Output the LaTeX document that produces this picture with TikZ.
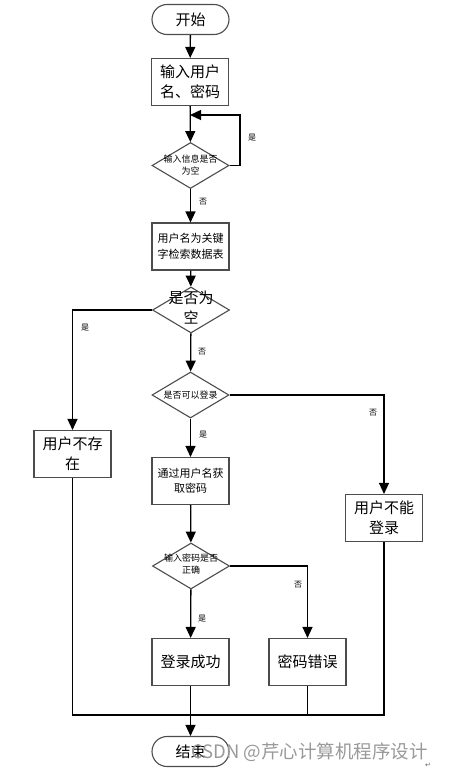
\documentclass[tikz,border=0pt]{standalone}
\usepackage{fontspec}
\newfontfamily\cjk{Noto Sans CJK SC}
\newfontfamily\dejavu{DejaVu Sans}
\usetikzlibrary{shapes.geometric,arrows.meta}
\tikzset{
  box/.style={draw=black!70, line width=1.1pt, fill=white, minimum width=77pt, minimum height=47pt, align=center, inner sep=1pt, font=\cjk\fontsize{15}{20}\selectfont},
  smallbox/.style={box, font=\cjk\fontsize{11}{15.5}\selectfont},
  term/.style={draw=black!70, line width=1.1pt, rounded corners=15pt, minimum width=77pt, minimum height=30pt, font=\cjk\fontsize{15}{18}\selectfont},
  dec/.style={diamond, draw=black!70, line width=1.1pt, inner sep=0pt, minimum width=77pt, minimum height=46pt},
  dectext/.style={align=center, inner sep=0pt, font=\cjk\fontsize{9}{12.5}\selectfont},
  bigdectext/.style={align=center, inner sep=0pt, font=\cjk\fontsize{15}{20}\selectfont},
  arr/.style={draw=black, line width=1.3pt, -{Triangle[length=11pt,width=10pt]}},
  ln/.style={draw=black, line width=1.3pt},
  lab/.style={font=\cjk\fontsize{8}{8}\selectfont, inner sep=0pt}
}
\begin{document}
\begin{tikzpicture}[x=1pt,y=-1pt]
\useasboundingbox (0,0) rectangle (455,771);
% nodes
\node[term] (start) at (190.5,19.5) {开始};
\node[box] (in1) at (190,82) {输入用户\\名、密码};
\node[dec] (d1) at (190.5,165.5) {};
\node[dectext] (d1t) at (190.5,165) {输入信息是否\\为空};
\node[smallbox] (box2) at (190.5,246.5) {用户名为关键\\字检索数据表};
\node[dec] (d2) at (191,310) {};
\node[bigdectext] (d2t) at (191,308) {是否为\\空};
\node[dec] (d3) at (190.5,395) {};
\node[dectext] (d3t) at (190.5,395) {是否可以登录};
\node[smallbox] (getpw) at (190.5,481) {通过用户名获\\取密码};
\node[box] (cant) at (384,518) {用户不能\\登录};
\node[box] (nouser) at (72.5,454) {用户不存\\在};
\node[dec] (d4) at (191,566) {};
\node[dectext] (d4t) at (191,564) {输入密码是否\\正确};
\node[box] (ok) at (190.5,662) {登录成功};
\node[box] (wrong) at (307.5,662) {密码错误};
\node[term] (end) at (190.5,751.5) {结束};
\coordinate (loopin) at (190,115);
\coordinate (join) at (190,715);
% connectors
\draw[arr] (start) -- (in1);
\draw[arr] (in1) -- (d1);
\draw[arr] (d1.east) -| (240,115) -- (loopin);
\node[lab] (l1) at (252,138) {是};
\draw[arr] (d1) -- (box2);
\node[lab] (l2) at (203,202) {否};
\draw[arr] (box2) -- (d2);
\draw[arr] (d2.west) -| (nouser.north);
\node[lab] (l3) at (85,328) {是};
\draw[arr] (d2) -- (d3);
\node[lab] (l4) at (202,352) {否};
\draw[arr] (d3.east) -| (cant.north);
\node[lab] (l5) at (373,413) {否};
\draw[arr] (d3) -- (getpw);
\node[lab] (l6) at (203,435) {是};
\draw[arr] (getpw) -- (d4);
\draw[arr] (d4.east) -| (wrong.north);
\node[lab] (l7) at (298,585) {否};
\draw[arr] (d4) -- (ok);
\node[lab] (l8) at (202,619) {是};
\draw[arr] (ok) -- (end);
\draw[ln] (nouser.south) |- (join);
\draw[ln] (cant.south) |- (join);
\draw[ln] (wrong.south) -- (wrong.south |- join);
% watermark
\node[anchor=west, inner sep=0pt, text=black!40, font=\cjk\fontsize{18.5}{18.5}\selectfont] (wm) at (191,752) {CSDN @芹心计算机程序设计};
\node[inner sep=0pt, text=black!60, font=\dejavu\fontsize{7}{7}\selectfont] (ret) at (428,765) {↵};
\end{tikzpicture}
\end{document}
